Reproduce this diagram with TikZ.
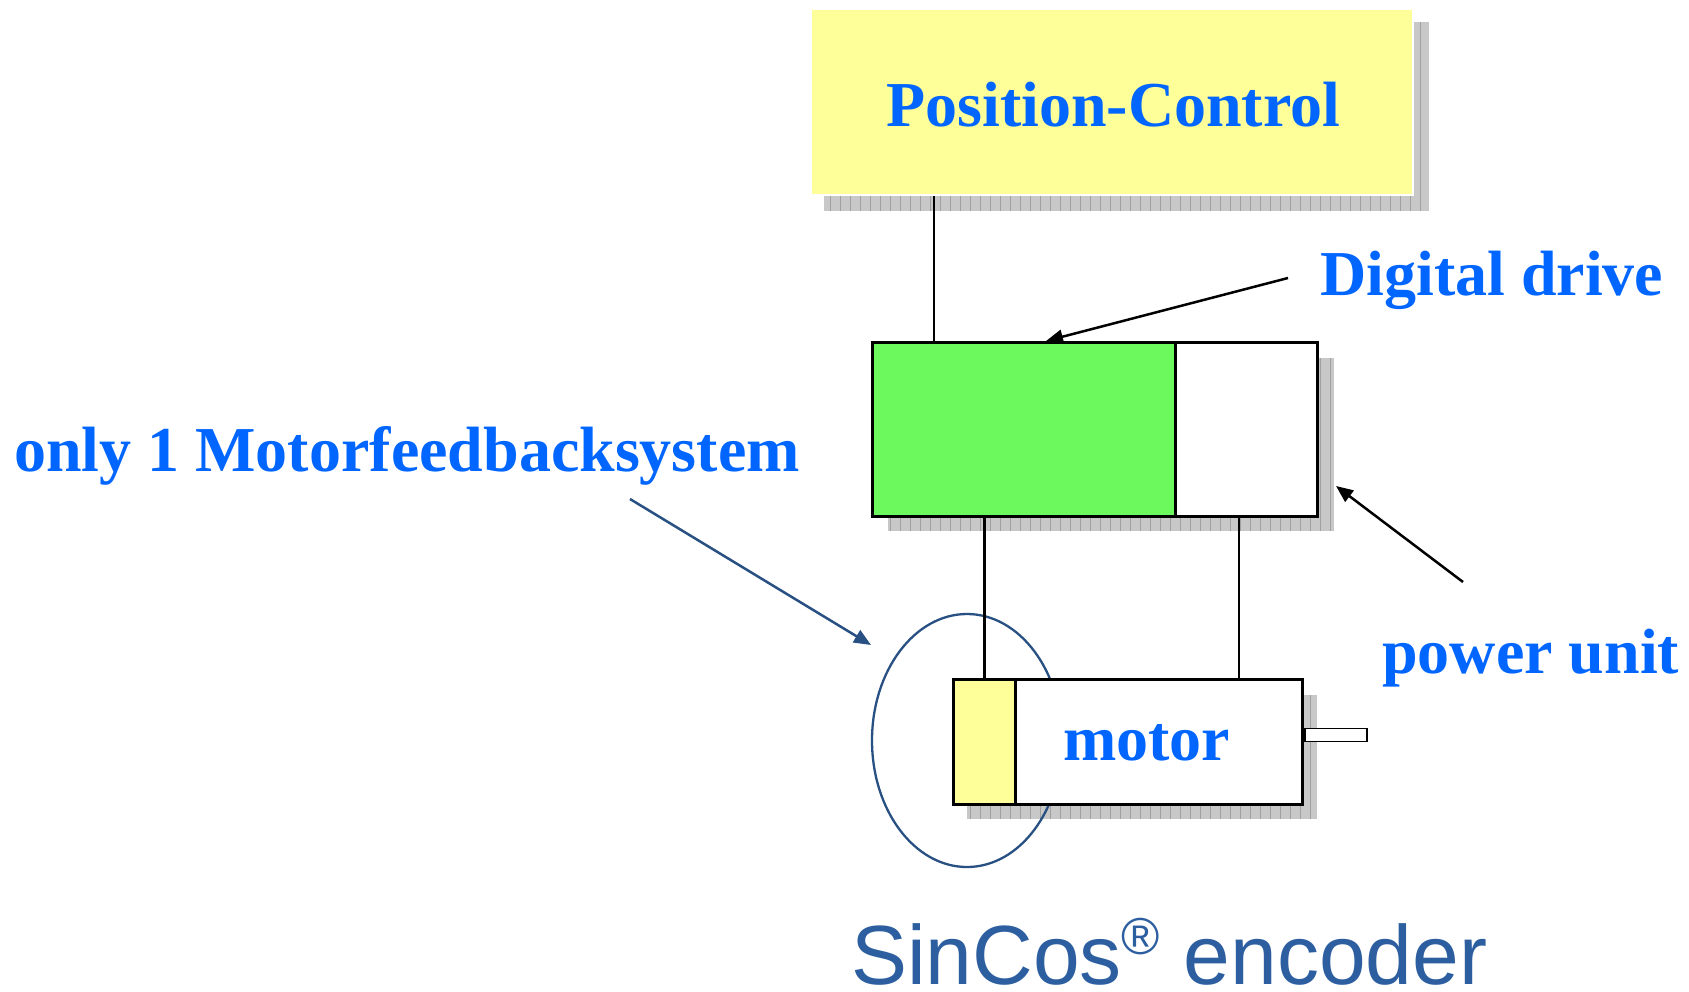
\documentclass[tikz,border=0pt]{standalone}
\usepackage{fontspec}
\setmainfont{Liberation Serif}
\newfontfamily\arialf{Liberation Sans}
\usetikzlibrary{arrows.meta,calc,shapes.geometric}
\definecolor{txtblue}{RGB}{0,102,255}
\definecolor{dblue}{RGB}{40,80,130}
\definecolor{sinblue}{RGB}{45,95,160}
\definecolor{boxgreen}{RGB}{107,249,94}
\definecolor{boxyellow}{RGB}{255,255,153}
\definecolor{shgray}{RGB}{200,200,200}
\definecolor{shline}{RGB}{160,160,160}
\tikzset{
  blk/.style={draw=black,line width=2.8pt,inner sep=0pt,anchor=north west},
  lbl/.style={inner sep=0pt,anchor=base west,text=txtblue,font=\bfseries\fontsize{64}{70}\selectfont},
  conn/.style={draw=black,line width=2.4pt},
  arr/.style={line width=2.5pt,-{Triangle[length=17pt,width=14pt]}},
}
\newcommand{\shadowrect}[4]{%
  \fill[shgray] (#1,#2) rectangle (#3,#4);
  \begin{scope}
    \clip (#1,#2) rectangle (#3,#4);
    \draw[shline,line width=0.7pt] (#1,#2) grid[step=10] (#3,#4);
  \end{scope}}
\begin{document}
\begin{tikzpicture}[x=1pt,y=-1pt]
\useasboundingbox (0,0) rectangle (1689,991);
\fill[white] (0,0) rectangle (1689,991);
% shadows
\shadowrect{824}{22}{1429}{211}
\shadowrect{888}{358}{1334}{531}
\shadowrect{967}{695}{1317}{819}
% ellipse (encoder marking)
\node[draw=dblue,line width=2.3pt,ellipse,minimum width=190pt,minimum height=253pt,inner sep=0pt] (ring) at (967,740.5) {};
% boxes
\node[draw=white,line width=1.5pt,fill=boxyellow,minimum width=602pt,minimum height=186pt,inner sep=0pt,anchor=north west] (pc) at (810,8) {};
\node[blk,fill=boxgreen,minimum width=303pt,minimum height=174pt] (ctrl) at (871,341) {};
\node[blk,fill=white,minimum width=142pt,minimum height=174pt] (power) at (1174,341) {};
\node[blk,fill=boxyellow,minimum width=62pt,minimum height=125pt] (enc) at (952,678) {};
\node[blk,fill=white,minimum width=287pt,minimum height=125pt] (mot) at (1014,678) {};
\node[draw=black,line width=1.8pt,fill=white,minimum width=62pt,minimum height=13pt,inner sep=0pt,anchor=west] (shaft) at ($(mot.east)+(0,-7)$) {};
% connectors
\draw[conn] ([xshift=63pt]ctrl.north west) -- ([xshift=63pt]ctrl.north west |- pc.south);
\draw[conn] (enc.north) -- (enc.north |- ctrl.south);
\draw[conn] ([xshift=225pt]mot.north west) -- ([xshift=225pt]mot.north west |- power.south);
% texts
\node[lbl] (tpc) at (886,126) {Position-Control};
\node[lbl] (tdd) at (1320,295) {Digital drive};
\node[lbl] (tfb) at (14,471) {only 1 Motorfeedbacksystem};
\node[lbl] (tpu) at (1382,673) {power unit};
\node[lbl] (tmot) at (1063,760) {motor};
\node[inner sep=0pt,anchor=base west,text=sinblue] (tsc) at (851,984)
  {\arialf\fontsize{84}{88}\selectfont SinCos\raisebox{30pt}{\fontsize{52}{54}\selectfont ®} encoder};
% arrows
\coordinate (ddtail) at (1288,278);
\coordinate (ddtip) at ([xshift=175pt]ctrl.north west);
\draw[arr,black] (ddtail) -- (ddtip);
\coordinate (putail) at (1463,582);
\coordinate (putip) at (1336,486);
\draw[arr,black] (putail) -- (putip);
\coordinate (fbtail) at (630,499);
\coordinate (fbtip) at (871,645);
\draw[arr,draw=dblue,fill=dblue] (fbtail) -- (fbtip);
\end{tikzpicture}
\end{document}
